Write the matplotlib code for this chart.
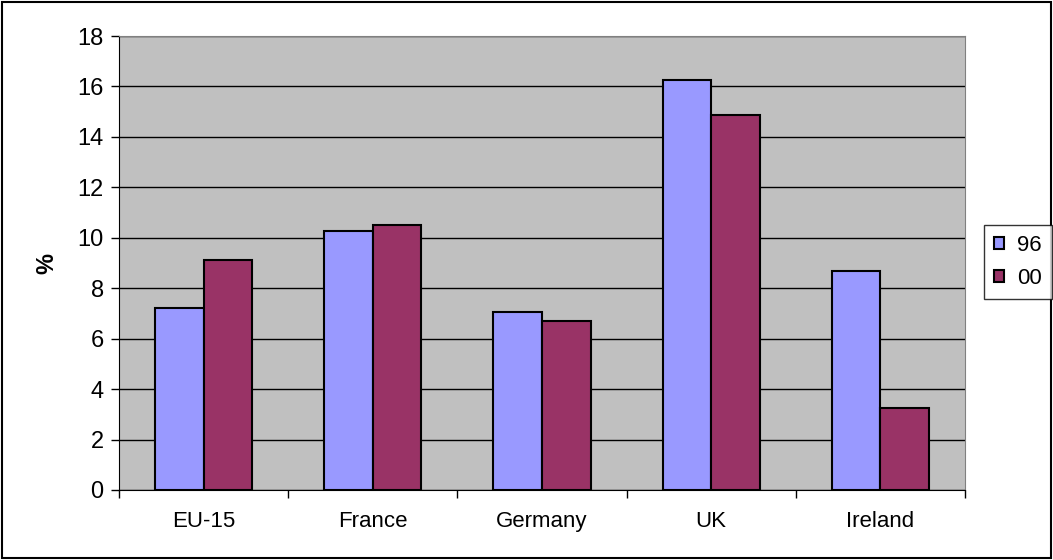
import numpy as np
import matplotlib.pyplot as plt
from matplotlib.patches import Rectangle

plt.rcParams['font.family'] = ['Liberation Sans', 'DejaVu Sans']

# Dados
categories = ['EU-15', 'France', 'Germany', 'UK', 'Ireland']
values_96 = [7.2, 10.25, 7.05, 16.25, 8.7]
values_00 = [9.1, 10.5, 6.7, 14.85, 3.25]
series_labels = ['96', '00']
yticks = list(range(0, 19, 2))

fig = plt.figure(figsize=(10.53, 5.6), dpi=100)
ax = fig.add_axes([0.113, 0.125, 0.8035, 0.8107])

x = np.arange(len(categories))
w = 0.287
ax.bar(x - w / 2, values_96, w, color='#9999FF', edgecolor='black', linewidth=1.5, label=series_labels[0], zorder=3)
ax.bar(x + w / 2, values_00, w, color='#993366', edgecolor='black', linewidth=1.5, label=series_labels[1], zorder=3)

ax.set_facecolor('#C0C0C0')
ax.set_xlim(-0.5, len(categories) - 0.5)
ax.set_ylim(0, 18)
ax.set_yticks(yticks)
ax.tick_params(axis='y', labelsize=17, length=6, width=1, pad=5)
ax.yaxis.grid(True, color='black', linewidth=1, zorder=1)
ax.set_axisbelow(True)

# ticks do eixo x entre as categorias
ax.set_xticks(np.arange(-0.5, len(categories), 1))
ax.set_xticklabels([])
ax.set_xticks(x, minor=True)
ax.set_xticklabels(categories, minor=True, fontsize=16)
ax.tick_params(axis='x', which='major', length=6, width=1)
ax.tick_params(axis='x', which='minor', length=0, pad=15)

for s in ['top', 'right']:
    ax.spines[s].set_color('#808080')
for s in ['left', 'bottom']:
    ax.spines[s].set_color('black')

ax.set_ylabel('%', fontsize=17, fontweight='bold', labelpad=14)

leg = fig.legend(loc='center left', bbox_to_anchor=(0.934, 0.532), fontsize=16, frameon=True,
                 fancybox=False, edgecolor='black', handlelength=0.45, handleheight=0.45,
                 handletextpad=0.6, borderpad=0.45, labelspacing=0.55, borderaxespad=0)
leg.get_frame().set_linewidth(1)

# moldura em volta da figura
fig.patches.append(Rectangle((0.002, 0.003), 0.996, 0.994, transform=fig.transFigure,
                             fill=False, edgecolor='black', linewidth=1.5))

plt.savefig('out.png', dpi=100)
